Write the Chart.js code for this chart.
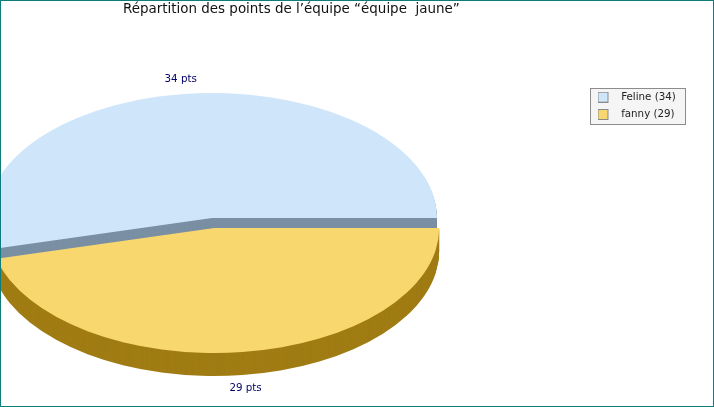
<!DOCTYPE html>
<html>
<head>
<meta charset="utf-8">
<style>
  html, body { margin: 0; background: #fff; }
  #wrap { position: relative; width: 714px; height: 407px; outline: 1px solid #0f7c7c; outline-offset: -1px; }
  canvas { display: block; }
</style>
<script src="https://cdn.jsdelivr.net/npm/chart.js@4/dist/chart.umd.min.js"></script>
</head>
<body>
<div id="wrap"><canvas id="pie" width="714" height="407"></canvas></div>
<script>
const players = ["Feline", "fanny"];
const points = [34, 29];
const topColors = ["#cfe6fa", "#f8d76f"];
const sideColors = ["#7a8fa3", "#a07c14"];
const explode = [0, 0.08];
const titleText = "Répartition des points de l’équipe “équipe  jaune”";

// the pie is flattened into an ellipse, so it is drawn by the plugin below
const centerX = 212, centerY = 218, radiusX = 225, radiusY = 125, depth = 23;
const font = "DejaVu Sans";

function swatch(color) {
  const c = document.createElement("canvas");
  c.width = 19;
  c.height = 11;
  const g = c.getContext("2d");
  g.fillStyle = color;
  g.fillRect(0, 0, 11, 11);
  g.strokeStyle = "#8a8a8a";
  g.strokeRect(0.5, 0.5, 10, 10);
  return c;
}

const flatPie = {
  id: "flatPie",
  afterLayout(chart) {
    chart.titleBlock.left = 123;
    chart.titleBlock.top = 1;
    chart.legend.left = 591;
    chart.legend.top = 85;
  },
  beforeDraw(chart) {
    const ctx = chart.ctx;
    ctx.fillStyle = "#f5f5f5";
    ctx.strokeStyle = "#8c8c8c";
    ctx.fillRect(590.5, 88.5, 95, 36);
    ctx.strokeRect(590.5, 88.5, 95, 36);
  },
  beforeDatasetDraw(chart, args) {
    const ctx = chart.ctx;
    args.meta.data.forEach((arc, i) => {
      const mid = (arc.startAngle + arc.endAngle) / 2;
      const ox = centerX + Math.cos(mid) * radiusX * explode[i];
      const oy = centerY + Math.sin(mid) * radiusY * explode[i];
      const plain = arc.options;
      const stamp = (color, d) => {
        arc.options = Object.assign({}, plain, { backgroundColor: color, borderWidth: 0 });
        ctx.save();
        ctx.translate(ox, oy + d);
        ctx.scale(radiusX / arc.outerRadius, radiusY / arc.outerRadius);
        ctx.translate(-arc.x, -arc.y);
        arc.draw(ctx);
        ctx.restore();
      };
      for (let d = depth; d > 0; d--) stamp(sideColors[i], d);
      stamp(topColors[i], 0);
      arc.options = plain;
    });
    return false;
  },
  afterDatasetsDraw(chart) {
    const ctx = chart.ctx;
    ctx.save();
    ctx.font = "10.3px '" + font + "'";
    ctx.fillStyle = "#000066";
    ctx.textAlign = "center";
    ctx.textBaseline = "middle";
    chart.getDatasetMeta(0).data.forEach((arc, i) => {
      const mid = (arc.startAngle + arc.endAngle) / 2;
      const k = 1.12 + explode[i];
      const drop = i === 1 ? 21 : 0;
      ctx.fillText(points[i] + " pts", centerX + Math.cos(mid) * radiusX * k, centerY + Math.sin(mid) * radiusY * k + drop);
    });
    ctx.restore();
  }
};

const total = points.reduce((a, b) => a + b, 0);

new Chart(document.getElementById("pie"), {
  type: "pie",
  plugins: [flatPie],
  data: {
    labels: players,
    datasets: [{
      data: points,
      backgroundColor: topColors,
      borderWidth: 0,
      clip: false
    }]
  },
  options: {
    responsive: false,
    animation: false,
    events: [],
    // first slice ends at 3 o'clock, going clockwise
    rotation: 90 - points[0] / total * 360,
    plugins: {
      tooltip: { enabled: false },
      title: {
        display: true,
        text: titleText,
        align: "start",
        color: "#111111",
        font: { family: font, size: 13.45, weight: "normal" },
        padding: { top: 0, bottom: 0 }
      },
      legend: {
        position: "right",
        align: "start",
        labels: {
          color: "#222222",
          font: { family: font, size: 10.3 },
          padding: 7,
          usePointStyle: true,
          pointStyleWidth: 18,
          generateLabels: () => players.map((name, i) => ({
            text: name + " (" + points[i] + ")",
            pointStyle: swatch(topColors[i]),
            fontColor: "#222222",
            lineWidth: 0,
            strokeStyle: "transparent",
            hidden: false,
            index: i
          }))
        }
      }
    }
  }
});
</script>
</body>
</html>
